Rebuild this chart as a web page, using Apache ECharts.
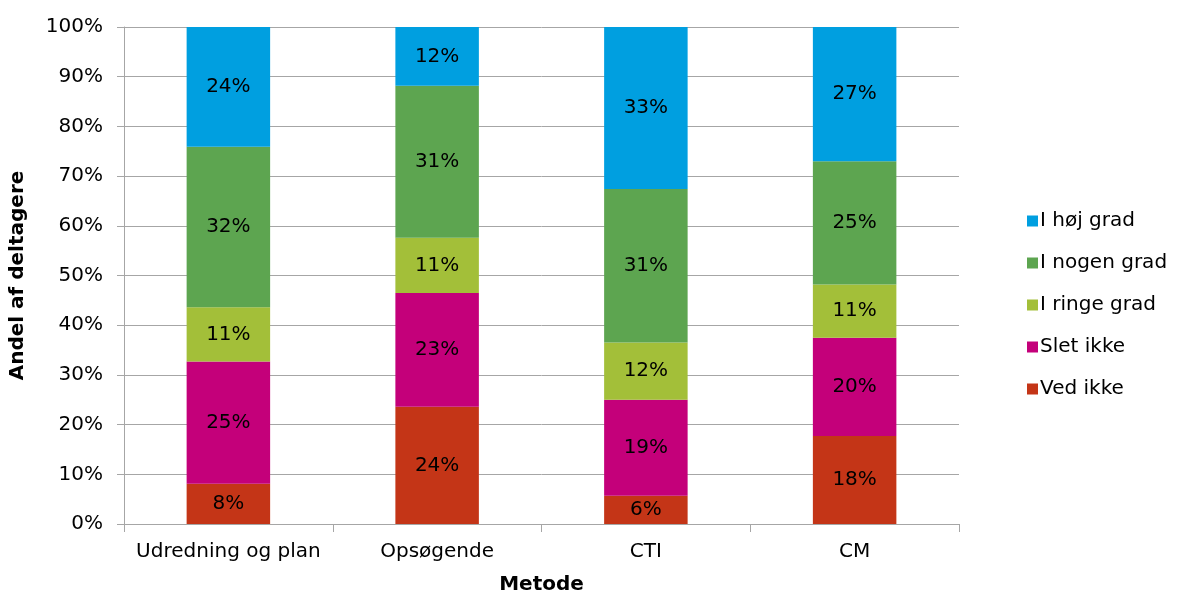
<!DOCTYPE html>
<html><head><meta charset="utf-8">
<script src="https://cdn.jsdelivr.net/npm/echarts@6/dist/echarts.min.js"></script>
<style>html,body{margin:0;padding:0;background:#fff}#c{width:1178px;height:593px}</style>
</head><body><div id="c"></div>
<script>
const categories = ["Udredning og plan", "Opsøgende", "CTI", "CM"];
const vedIkke   = [8.1, 23.6, 5.7, 17.7];
const sletIkke  = [24.6, 22.9, 19.3, 19.8];
const ringeGrad = [10.9, 11.1, 11.5, 10.7];
const nogenGrad = [32.3, 30.6, 30.9, 24.8];
const hojGrad   = [24.1, 11.8, 32.6, 27.0];
const yTicks = [0,10,20,30,40,50,60,70,80,90,100];

const font = 'DejaVu Sans';
const fs = 20;
const seriesDefs = [
  ["Ved ikke", vedIkke, "#C43517"],
  ["Slet ikke", sletIkke, "#C4007A"],
  ["I ringe grad", ringeGrad, "#A3BF39"],
  ["I nogen grad", nogenGrad, "#5DA550"],
  ["I høj grad", hojGrad, "#009FE0"]
];
const chart = echarts.init(document.getElementById('c'));
chart.setOption({
  animation:false,
  textStyle:{fontFamily:font},
  grid:{left:124,right:219,top:27,bottom:69,outerBoundsMode:'none',containLabel:false},
  legend:{
    orient:'vertical', left:1022, top:206,
    itemWidth:11, itemHeight:11, itemGap:22,
    icon:'rect',
    data:["I høj grad","I nogen grad","I ringe grad","Slet ikke","Ved ikke"],
    textStyle:{fontFamily:font,fontSize:fs,color:'#000',padding:[0,0,0,-3]}
  },
  xAxis:{
    type:'category', data:categories,
    name:'Metode', nameLocation:'middle', nameGap:51,
    nameTextStyle:{fontFamily:font,fontSize:fs,fontWeight:'bold',color:'#000'},
    axisLine:{lineStyle:{color:'#A6A6A6'}},
    axisTick:{show:true,length:8,interval:0,alignWithLabel:false,lineStyle:{color:'#A6A6A6'}},
    axisLabel:{fontFamily:font,fontSize:fs,color:'#000',margin:18,interval:0,hideOverlap:false}
  },
  yAxis:{
    type:'value', min:0, max:100, interval:10,
    name:'Andel af deltagere', nameLocation:'middle', nameGap:96,
    nameTextStyle:{fontFamily:font,fontSize:fs,fontWeight:'bold',color:'#000'},
    axisLine:{show:true,lineStyle:{color:'#A6A6A6'}},
    axisTick:{show:true,length:7,lineStyle:{color:'#A6A6A6'}},
    axisLabel:{fontFamily:font,fontSize:fs,color:'#000',margin:21,
      formatter:v=> yTicks.includes(v) ? v+'%' : ''},
    splitLine:{lineStyle:{color:'#A6A6A6'}}
  },
  series: seriesDefs.map(([name,data,color])=>({
    name, type:'bar', stack:'t', data, barWidth:'40%',
    itemStyle:{color},
    label:{show:true,position:'inside',fontFamily:font,fontSize:fs,color:'#000',
      formatter:p=>Math.round(p.value)+'%'}
  }))
});
</script></body></html>
